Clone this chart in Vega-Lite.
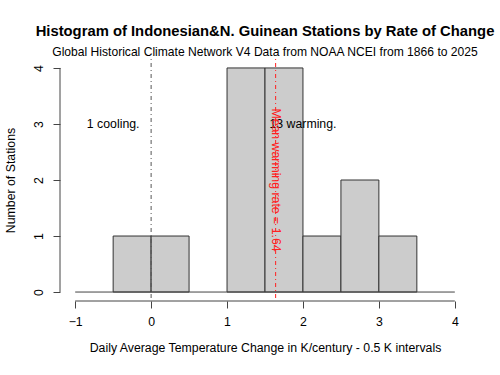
{
  "$schema": "https://vega.github.io/schema/vega-lite/v6.json",
  "width": 410,
  "height": 242,
  "autosize": {"type": "none"},
  "padding": {"left": 60, "top": 59, "right": 30, "bottom": 74},
  "background": "white",
  "config": {
    "view": {"stroke": null},
    "font": "Liberation Sans",
    "axis": {"labelFont": "Liberation Sans", "titleFont": "Liberation Sans", "labelColor": "black", "titleColor": "black", "labelFontSize": 12.3, "titleFontSize": 12.3, "titleFontWeight": "normal", "grid": false, "domain": false, "tickColor": "#444", "tickSize": 7}
  },
  "title": {
    "text": "Histogram of Indonesian&N. Guinean Stations by Rate of Change",
    "subtitle": "Global Historical Climate Network V4 Data from NOAA NCEI from 1866 to 2025",
    "font": "Liberation Sans",
    "subtitleFont": "Liberation Sans",
    "fontSize": 14.8,
    "fontWeight": "bold",
    "subtitleFontSize": 12.1,
    "subtitleColor": "black",
    "color": "black",
    "anchor": "middle",
    "frame": "group",
    "offset": 0,
    "subtitlePadding": 8
  },
  "data": {
    "values": [
      {"bin_start": -0.5, "bin_end": 0, "count": 1},
      {"bin_start": 0, "bin_end": 0.5, "count": 1},
      {"bin_start": 1, "bin_end": 1.5, "count": 4},
      {"bin_start": 1.5, "bin_end": 2, "count": 4},
      {"bin_start": 2, "bin_end": 2.5, "count": 1},
      {"bin_start": 2.5, "bin_end": 3, "count": 2},
      {"bin_start": 3, "bin_end": 3.5, "count": 1}
    ]
  },
  "layer": [
    {
      "mark": {"type": "rect", "fill": "#cccccc", "stroke": "#333", "strokeWidth": 1},
      "encoding": {
        "x": {"field": "bin_start", "type": "quantitative",
              "scale": {"domain": [-1.2, 4.2], "nice": false, "zero": false},
              "axis": {"values": [-1, 0, 1, 2, 3, 4], "format": "d", "title": "Daily Average Temperature Change in K/century - 0.5 K intervals", "labelPadding": 7, "titlePadding": 14, "labelFlush": false}},
        "x2": {"field": "bin_end"},
        "y": {"field": "count", "type": "quantitative",
              "scale": {"domain": [-0.16, 4.16], "nice": false, "zero": false},
              "axis": {"values": [0, 1, 2, 3, 4], "format": "d", "title": "Number of Stations", "labelAngle": -90, "labelAlign": "center", "labelBaseline": "bottom", "labelPadding": 8, "titlePadding": 15, "labelFlush": false}},
        "y2": {"datum": 0}
      }
    },
    {
      "data": {"values": [{}]},
      "mark": {"type": "rule", "color": "#555", "strokeDash": [1, 3, 4, 3], "strokeWidth": 1},
      "encoding": {"x": {"datum": 0}}
    },
    {
      "data": {"values": [{}]},
      "mark": {"type": "rule", "color": "#ff2020", "strokeDash": [1, 3, 4, 3], "strokeWidth": 1},
      "encoding": {"x": {"datum": 1.64}}
    },
    {
      "data": {"values": [{}]},
      "mark": {"type": "rule", "color": "#444", "strokeWidth": 1},
      "encoding": {"x": {"datum": -1}, "x2": {"datum": 4}, "y": {"datum": 0}}
    },
    {
      "data": {"values": [{}]},
      "mark": {"type": "rule", "color": "#444", "strokeWidth": 1},
      "encoding": {"x": {"datum": -1}, "x2": {"datum": 4}, "y": {"datum": -0.16}}
    },
    {
      "data": {"values": [{}]},
      "mark": {"type": "rule", "color": "#444", "strokeWidth": 1},
      "encoding": {"x": {"datum": -1.2}, "y": {"datum": 0}, "y2": {"datum": 4}}
    },
    {
      "data": {"values": [{}]},
      "mark": {"type": "text", "text": "1 cooling.", "fontSize": 12.3, "font": "Liberation Sans", "align": "center", "baseline": "middle", "color": "black"},
      "encoding": {"x": {"datum": -0.5}, "y": {"datum": 3}}
    },
    {
      "data": {"values": [{}]},
      "mark": {"type": "text", "text": "13 warming.", "fontSize": 12.3, "font": "Liberation Sans", "align": "center", "baseline": "middle", "color": "black"},
      "encoding": {"x": {"datum": 2}, "y": {"datum": 3}}
    },
    {
      "data": {"values": [{}]},
      "mark": {"type": "text", "text": "Mean warming rate = 1.64", "fontSize": 12.3, "font": "Liberation Sans", "align": "center", "baseline": "middle", "angle": 90, "color": "#ff2020"},
      "encoding": {"x": {"datum": 1.64}, "y": {"datum": 2}}
    }
  ]
}
